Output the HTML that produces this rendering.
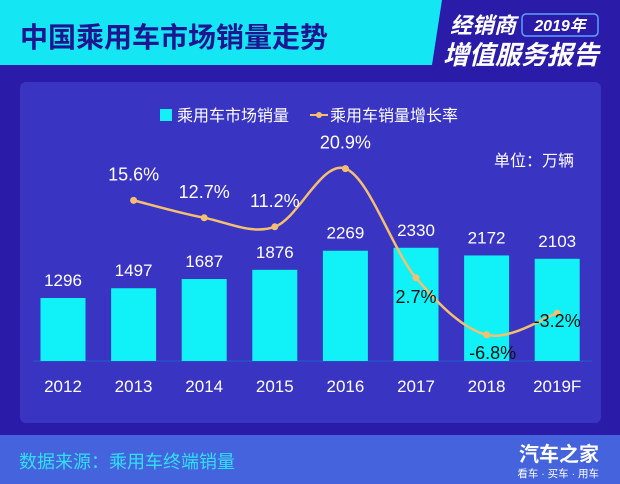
<!DOCTYPE html>
<html><head><meta charset="utf-8"><style>
body{margin:0;width:620px;height:484px;overflow:hidden;background:#2b1fae;font-family:"Liberation Sans","Noto Sans CJK SC",sans-serif}
</style></head><body>
<svg width="620" height="484" style="position:absolute;left:0;top:0">
<rect x="0" y="0" width="620" height="484" fill="#2a1ca8"/>
<polygon points="0,0 442,0 432,65 0,65" fill="#14e6f4"/>
<text x="20" y="47" font-size="28" font-weight="bold" fill="#1e1690">中国乘用车市场销量走势</text>
<text x="450" y="33" font-size="22" font-weight="bold" font-style="italic" fill="#fff">经销商</text>
<rect x="522" y="14" width="76" height="22" rx="4" fill="#2a1ca8" stroke="#5aa0ff" stroke-width="1.5"/>
<text x="560" y="31" font-size="16" font-weight="bold" font-style="italic" fill="#fff" text-anchor="middle">2019年</text>
<text x="443" y="64" font-size="26" font-weight="bold" font-style="italic" fill="#fff">增值服务报告</text>
<rect x="20" y="82" width="581" height="341" rx="6" fill="#3a34c2"/>
<rect x="0" y="435" width="620" height="49" fill="#4563dd"/>
<text x="19" y="468" font-size="18" fill="#2fe0f5">数据来源：乘用车终端销量</text>
<text x="599" y="461" font-size="20" font-weight="bold" fill="#fff" text-anchor="end">汽车之家</text>
<text x="599" y="477" font-size="10.5" fill="#fff" text-anchor="end">看车 · 买车 · 用车</text>
<rect x="160" y="109" width="12" height="12" fill="#14f0f8"/>
<text x="177" y="121" font-size="16" fill="#fff">乘用车市场销量</text>
<line x1="310" y1="115" x2="328" y2="115" stroke="#f4c070" stroke-width="2"/>
<circle cx="319" cy="115" r="3" fill="#f4c070"/>
<text x="330" y="121" font-size="16" fill="#fff">乘用车销量增长率</text>
<text x="574" y="166" font-size="16" fill="#fff" text-anchor="end">单位：万辆</text>
<line x1="33" y1="361" x2="592" y2="361" stroke="#2a50c8" stroke-width="1.5"/>
<g id="g"></g>
</svg>
<script>
const categories=["2012","2013","2014","2015","2016","2017","2018","2019F"];
const sales=[1296,1497,1687,1876,2269,2330,2172,2103];
const growthYears=["2013","2014","2015","2016","2017","2018","2019F"];
const growth=[15.6,12.7,11.2,20.9,2.7,-6.8,-3.2];
const NS="http://www.w3.org/2000/svg";
const g=document.getElementById('g');
const xc=i=>63+i*70.6;
const yBar=v=>361-v*0.0486;
const yLine=v=>294-v*6;
function mk(t,a,txt){const e=document.createElementNS(NS,t);for(const k in a)e.setAttribute(k,a[k]);if(txt!==undefined)e.textContent=txt;g.appendChild(e);return e;}
categories.forEach((c,i)=>{
 const b=mk('rect',{x:xc(i)-22.5,y:yBar(sales[i]),width:45,height:361-yBar(sales[i]),fill:'#10f2f8'});
 
 
 const t=mk('text',{x:xc(i),y:yBar(sales[i])-12,'font-size':17,fill:'#fff','text-anchor':'middle'},String(sales[i]));
 
 
 const x=mk('text',{x:xc(i),y:392,'font-size':17,fill:'#fff','text-anchor':'middle'},c);
 
 
});
const pts=growth.map((v,j)=>[xc(categories.indexOf(growthYears[j])),yLine(v)]);
let d='M'+pts[0][0]+','+pts[0][1];
for(let i=0;i<pts.length-1;i++){const p0=pts[Math.max(0,i-1)],p1=pts[i],p2=pts[i+1],p3=pts[Math.min(pts.length-1,i+2)];
 d+=' C'+(p1[0]+(p2[0]-p0[0])/6)+','+(p1[1]+(p2[1]-p0[1])/6)+' '+(p2[0]-(p3[0]-p1[0])/6)+','+(p2[1]-(p3[1]-p1[1])/6)+' '+p2[0]+','+p2[1];}
const ln=mk('path',{d:d,fill:'none',stroke:'#f4c070','stroke-width':2.5});


const off=[[0,-20,'#fff'],[0,-20,'#fff'],[0,-20,'#fff'],[0,-20,'#fff'],[0,25,'#111'],[6,24,'#111'],[0,14,'#111']];
pts.forEach((p,j)=>{
 const c=mk('circle',{cx:p[0],cy:p[1],r:3.5,fill:'#f4c070'});
 
 
 const t=mk('text',{x:p[0]+off[j][0],y:p[1]+off[j][1],'font-size':18,fill:off[j][2],'text-anchor':'middle'},(growth[j]).toFixed(1)+'%');
 
 
});
</script>
</body></html>
